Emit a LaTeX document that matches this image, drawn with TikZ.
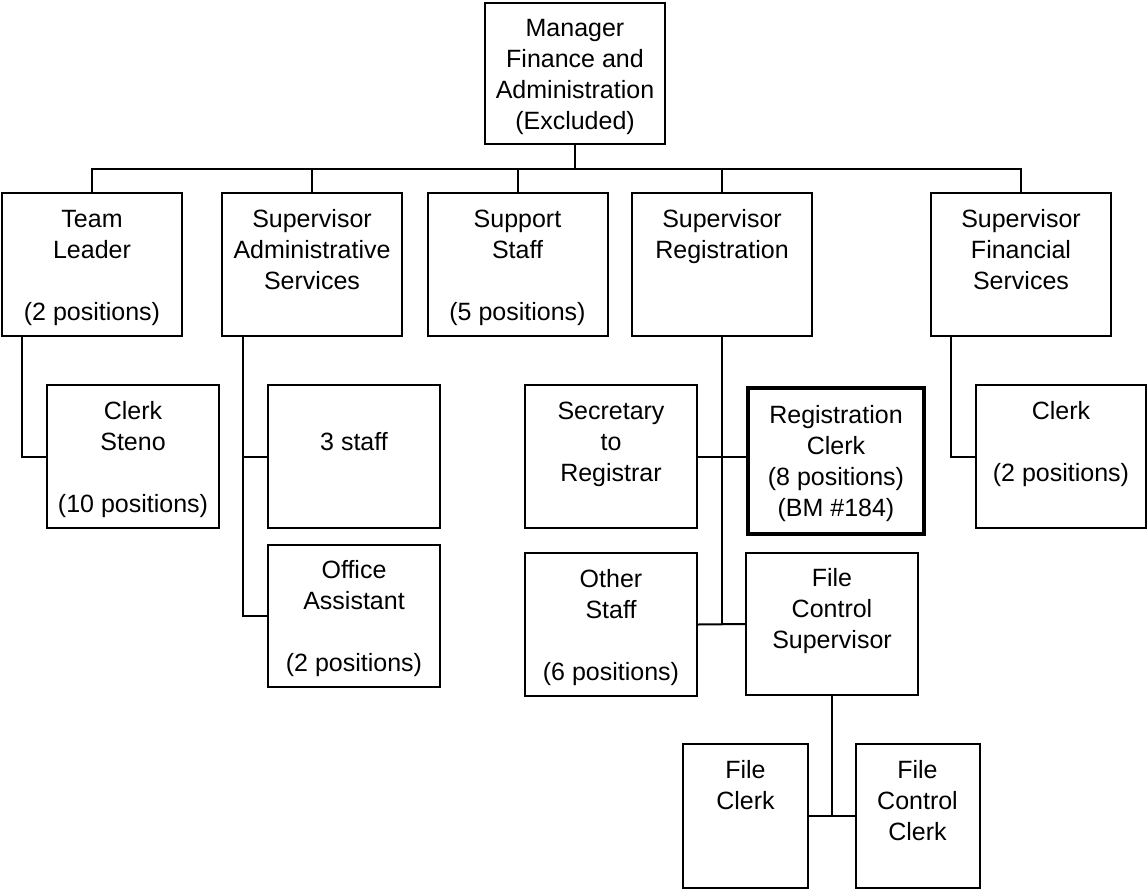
\documentclass[tikz,border=0pt]{standalone}
\usepackage{fontspec}
\setmainfont{Liberation Sans}
\newcommand{\ls}{\rule[-3.25pt]{0pt}{15.5pt}}
\begin{document}
\begin{tikzpicture}[x=0.5pt,y=-0.5pt,
  box/.style={draw, line width=1pt, inner sep=0pt, align=center,
    minimum width=#1, font=\fontsize{12.5}{15.5}\selectfont},
  box/.default=90pt,
  hbox/.style={box=#1, minimum height=71.5pt},
  conn/.style={line width=1pt},
  trunk/.style={line width=1.4pt}]
\useasboundingbox (0,0) rectangle (1148,890);
% top
\node[box, minimum height=70.5pt] (mgr) at (575,73.5) {\ls Manager\\\ls Finance and\\\ls Administration\\\ls (Excluded)};
% row 1
\node[hbox=90pt] (tl) at (92,264.5) {\ls Team\\\ls Leader\\\ls\\\ls (2 positions)};
\node[hbox=90pt] (sa) at (312,264.5) {\ls Supervisor\\\ls Administrative\\\ls Services\\\ls};
\node[hbox=90pt] (ss) at (517.5,264.5) {\ls Support\\\ls Staff\\\ls\\\ls (5 positions)};
\node[hbox=90pt] (sr) at (722,264.5) {\ls Supervisor\\\ls Registration\\\ls\\\ls};
\node[hbox=90pt] (sf) at (1021,264.5) {\ls Supervisor\\\ls Financial\\\ls Services\\\ls};
% row 2
\node[hbox=86pt] (cs) at (133,456.5) {\ls Clerk\\\ls Steno\\\ls\\\ls (10 positions)};
\node[hbox=86pt] (st3) at (354,456.5) {\ls\\\ls 3 staff\\\ls\\\ls};
\node[hbox=86pt, minimum height=71pt] (oa) at (354,616) {\ls Office\\\ls Assistant\\\ls\\\ls (2 positions)};
\node[hbox=86pt] (sec) at (611,456.5) {\ls Secretary\\\ls to\\\ls Registrar\\\ls};
\node[box=88pt, minimum height=73pt, line width=2.25pt] (rc) at (836,461) {\ls Registration\\\ls Clerk\\\ls (8 positions)\\\ls (BM \#184)};
\node[hbox=86pt] (os) at (611,624.5) {\ls Other\\\ls Staff\\\ls\\\ls (6 positions)};
\node[hbox=86pt, minimum height=71pt] (fcs) at (832,624) {\ls File\\\ls Control\\\ls Supervisor\\\ls};
\node[box=85pt, minimum height=71.5pt] (cl) at (1061,456.5) {\ls Clerk\\\ls\\\ls (2 positions)\\\ls};
% row 3
\node[box=62.5pt, minimum height=72pt] (fc) at (745.5,816) {\ls File\\\ls Clerk\\\ls\\\ls};
\node[box=62pt, minimum height=72pt] (fcc) at (917.5,816) {\ls File\\\ls Control\\\ls Clerk\\\ls};
% connectors
\coordinate (bus) at (575,169);
\draw[conn] (mgr.south) -- (bus);
\draw[conn] (tl.north) |- (bus) -| (sf.north);
\draw[conn] (sa.north) -- (sa.north |- bus);
\draw[conn] (ss.north) -- (ss.north |- bus);
\draw[conn] (sr.north) -- (sr.north |- bus);
\draw[conn] ([xshift=10.5pt]tl.south west) |- (cs.west);
\coordinate (saj) at ([xshift=11pt]sa.south west);
\draw[conn] (saj) |- (oa.west);
\draw[conn] (st3.west) -- (st3.west -| saj);
\draw[trunk] (sr.south) -- (sr.south |- fcs.west);
\draw[conn] (sec.east) -- (sec.east -| rc.west);
\draw[conn] (os.east) -- (fcs.west);
\draw[trunk] (fcs.south) -- (fcs.south |- fc.east);
\draw[conn] (fc.east) -- (fcc.west);
\draw[conn] ([xshift=10.5pt]sf.south west) |- (cl.west);
\end{tikzpicture}
\end{document}
